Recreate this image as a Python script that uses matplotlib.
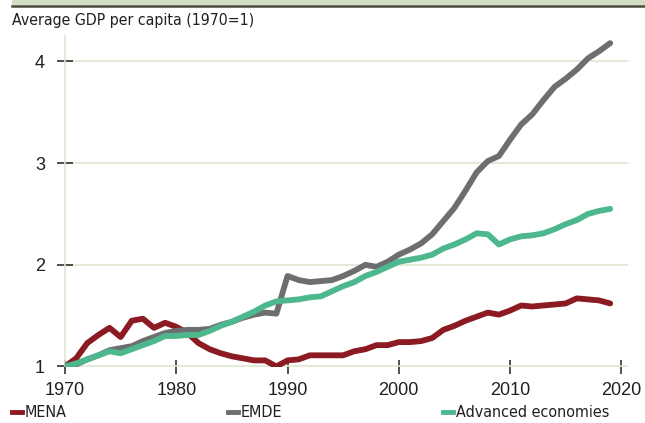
import numpy as np
import matplotlib.pyplot as plt
from matplotlib.lines import Line2D
from matplotlib.patches import Rectangle

years = np.arange(1970, 2020)

mena = [1.00, 1.08, 1.23, 1.31, 1.38, 1.29, 1.45, 1.47, 1.38, 1.43,
        1.39, 1.33, 1.23, 1.17, 1.13, 1.10, 1.08, 1.06, 1.06, 1.00,
        1.06, 1.07, 1.11, 1.11, 1.11, 1.11, 1.15, 1.17, 1.21, 1.21,
        1.24, 1.24, 1.25, 1.28, 1.36, 1.40, 1.45, 1.49, 1.53, 1.51,
        1.55, 1.60, 1.59, 1.60, 1.61, 1.62, 1.67, 1.66, 1.65, 1.62]

emde = [1.00, 1.02, 1.07, 1.11, 1.16, 1.18, 1.20, 1.25, 1.29, 1.33,
        1.35, 1.36, 1.36, 1.37, 1.41, 1.44, 1.48, 1.51, 1.53, 1.52,
        1.89, 1.85, 1.83, 1.84, 1.85, 1.89, 1.94, 2.00, 1.98, 2.03,
        2.10, 2.15, 2.21, 2.30, 2.43, 2.56, 2.73, 2.91, 3.02, 3.07,
        3.23, 3.38, 3.48, 3.62, 3.75, 3.83, 3.92, 4.03, 4.10, 4.18]

advanced = [1.00, 1.03, 1.07, 1.11, 1.15, 1.13, 1.17, 1.21, 1.25, 1.30,
            1.30, 1.31, 1.31, 1.35, 1.40, 1.44, 1.49, 1.54, 1.60, 1.64,
            1.65, 1.66, 1.68, 1.69, 1.74, 1.79, 1.83, 1.89, 1.93, 1.98,
            2.03, 2.05, 2.07, 2.10, 2.16, 2.20, 2.25, 2.31, 2.30, 2.20,
            2.25, 2.28, 2.29, 2.31, 2.35, 2.40, 2.44, 2.50, 2.53, 2.55]

names = ['MENA', 'EMDE', 'Advanced economies']
colors = ['#8b1a23', '#6d6e70', '#4db88d']
series = [mena, emde, advanced]

grid_col = '#dde6d2'
dark = '#231f20'

fig = plt.figure(figsize=(6.45, 4.23), dpi=100)
ax = fig.add_axes([65/645, 1 - 366.5/423, (628-65)/645, (366.5-36)/423])

for vals, c in zip(series, colors):
    ax.plot(years, vals, color=c, lw=4.2, solid_capstyle='round', solid_joinstyle='round', zorder=3)

ax.set_xlim(1970, 2020.6)
ax.set_ylim(1, 4.25)
ax.set_xticks([1970, 1980, 1990, 2000, 2010, 2020])
ax.set_yticks([1, 2, 3, 4])
ax.grid(axis='y', color=grid_col, lw=1.2, zorder=0)
for s in ['top', 'right', 'bottom']:
    ax.spines[s].set_visible(False)
ax.spines['left'].set_color(grid_col)
ax.spines['left'].set_linewidth(1.2)
ax.tick_params(axis='x', direction='inout', length=10, width=1.1, color=dark,
               labelsize=13, labelcolor=dark, pad=6)
ax.tick_params(axis='y', direction='inout', length=11, width=1.1, color=dark,
               labelsize=13, labelcolor=dark, pad=9)
for lab in ax.get_xticklabels() + ax.get_yticklabels():
    lab.set_family(['Liberation Sans', 'DejaVu Sans'])

# top band
fig.patches.append(Rectangle((12/645, 1 - 5/423), 1, 5/423, transform=fig.transFigure,
                             facecolor='#d3dfc4', edgecolor='none'))
fig.add_artist(Line2D([12/645, 1], [1 - 6/423, 1 - 6/423], color='#4a4a40', lw=1.8))

fig.text(12/645, 1 - 20/423, 'Average GDP per capita (1970=1)', family='DejaVu Sans',
         fontstretch='condensed', fontsize=11.3, color=dark, va='center', ha='left')

# legend
xs = [12, 228, 443]
for x0, name, c in zip(xs, names, colors):
    yl = 1 - 412/423
    fig.add_artist(Line2D([x0/645, (x0 + 10)/645], [yl, yl], color=c, lw=3.5))
    fig.text((x0 + 13)/645, yl, name, family='DejaVu Sans', fontstretch='condensed',
             fontsize=11.5, color=dark, va='center', ha='left')

fig.savefig('out.png', dpi=100)
